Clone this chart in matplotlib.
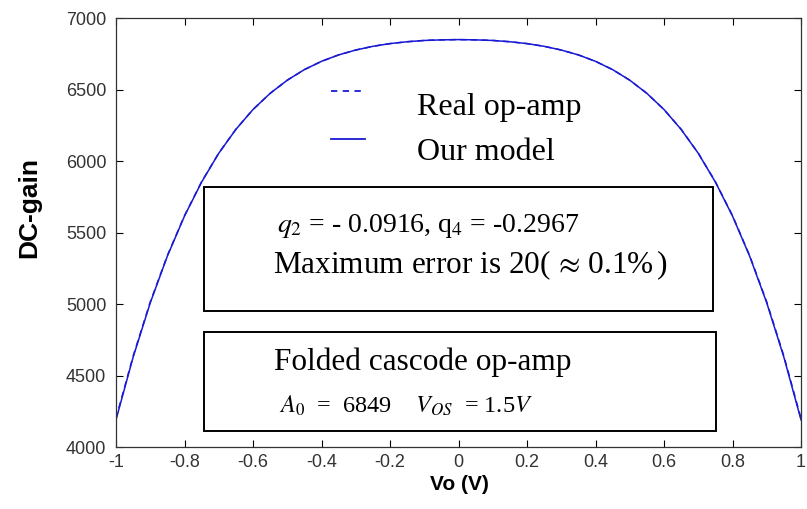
import matplotlib

matplotlib.use("Agg")
import matplotlib.pyplot as plt
from matplotlib.patches import Rectangle

# output voltage (V) and DC gain
vo = [-1.0, -0.95, -0.9, -0.85, -0.8, -0.75, -0.7, -0.65, -0.6, -0.55, -0.5,
      -0.45, -0.4, -0.35, -0.3, -0.25, -0.2, -0.15, -0.1, -0.05, 0.0,
      0.05, 0.1, 0.15, 0.2, 0.25, 0.3, 0.35, 0.4, 0.45, 0.5,
      0.55, 0.6, 0.65, 0.7, 0.75, 0.8, 0.85, 0.9, 0.95, 1.0]
gain_model = [4190, 4628, 5008, 5335, 5615, 5853, 6054, 6221, 6360, 6473, 6565,
              6639, 6697, 6742, 6776, 6802, 6821, 6834, 6843, 6847, 6849,
              6847, 6843, 6834, 6821, 6802, 6776, 6742, 6697, 6639, 6565,
              6473, 6360, 6221, 6054, 5853, 5615, 5335, 5008, 4628, 4190]
gain_real = [4200, 4636, 5014, 5339, 5618, 5855, 6055, 6222, 6360, 6473, 6565,
             6639, 6697, 6742, 6776, 6802, 6821, 6834, 6843, 6847, 6849,
             6847, 6843, 6834, 6821, 6802, 6776, 6742, 6697, 6639, 6565,
             6473, 6360, 6222, 6055, 5855, 5618, 5339, 5014, 4636, 4200]

x_ticks = [-1, -0.8, -0.6, -0.4, -0.2, 0, 0.2, 0.4, 0.6, 0.8, 1]
x_tick_labels = ["-1", "-0.8", "-0.6", "-0.4", "-0.2", "0", "0.2", "0.4", "0.6", "0.8", "1"]
y_ticks = [4000, 4500, 5000, 5500, 6000, 6500, 7000]

plt.rcParams.update({
    "font.family": "Liberation Sans",
    "mathtext.fontset": "stix",
})

BLUE = "#1a1ad4"
SERIF = "Liberation Serif"

fig = plt.figure(figsize=(8.07, 5.09), dpi=100)
ax = fig.add_axes([116 / 807, 1 - 447 / 509, 685 / 807, 429 / 509])

ax.plot(vo, gain_real, color=BLUE, lw=1.1, ls=(0, (4, 3)))
ax.plot(vo, gain_model, color=BLUE, lw=1.1)

ax.set_xlim(-1, 1)
ax.set_ylim(4000, 7000)
ax.set_xticks(x_ticks, x_tick_labels)
ax.set_yticks(y_ticks)
ax.tick_params(direction="in", top=True, right=True, length=5, width=0.8,
               labelsize=13, labelcolor="#333333")
ax.tick_params(axis="y", pad=7)
ax.tick_params(axis="x", pad=5)
for s in ax.spines.values():
    s.set_linewidth(0.9)
    s.set_color("#333333")

fig.text(459 / 807, 1 - 485 / 509, "Vo (V)", fontsize=15, fontweight="bold",
         ha="center", va="center")
fig.text(29 / 807, 1 - 208 / 509, "DC-gain", fontsize=19, fontweight="bold",
         rotation=90, ha="center", va="center")

# legend drawn by hand
ax.plot([-0.371, -0.272], [6492, 6492], color=BLUE, lw=1.3, ls=(0, (3.5, 3)))
ax.plot([-0.371, -0.272], [6154, 6154], color=BLUE, lw=1.3)
ax.text(-0.12, 6322, "Real op-amp", family=SERIF, fontsize=23, va="baseline")
ax.text(-0.12, 6007, "Our model", family=SERIF, fontsize=23, va="baseline")

# annotation boxes
ax.add_patch(Rectangle((-0.742, 4953), 1.486, 863, fill=False, ec="black", lw=1.4, zorder=3))
ax.add_patch(Rectangle((-0.742, 4114), 1.4945, 692, fill=False, ec="black", lw=1.4, zorder=3))

ax.text(-0.529, 5506, r"$q_2$ = - 0.0916, q$_4$ = -0.2967", family=SERIF,
        fontsize=20, va="baseline")
ax.text(-0.541, 5217, r"Maximum error is 20($\,\approx\,$0.1%$\,$)", family=SERIF,
        fontsize=22.5, va="baseline")
ax.text(-0.539, 4538, "Folded cascode op-amp", family=SERIF, fontsize=22.5, va="baseline")
ax.text(-0.523, 4240, r"$A_0$  =  6849    $V_{OS}$  = 1.5$V$", family=SERIF,
        fontsize=17.5, va="baseline")

fig.savefig("out.png", dpi=100)
